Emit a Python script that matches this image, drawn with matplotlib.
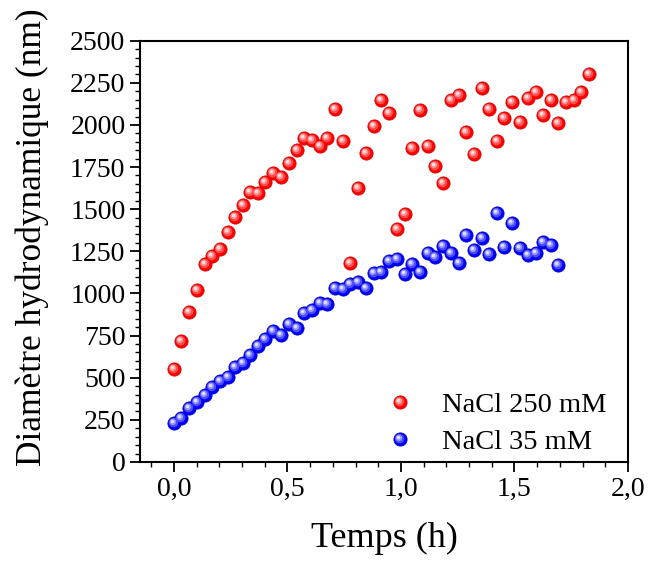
import numpy as np
import matplotlib
matplotlib.use("Agg")
import matplotlib.pyplot as plt
from matplotlib.path import Path
from matplotlib.lines import Line2D
from matplotlib.legend_handler import HandlerTuple
from matplotlib.ticker import MultipleLocator, FuncFormatter

plt.rcParams['font.family'] = ['Liberation Serif', 'DejaVu Serif']

# temps de mesure (h)
temps = [0.0, 0.031, 0.066, 0.101, 0.135, 0.167, 0.201, 0.236, 0.270, 0.304,
         0.336, 0.370, 0.403, 0.436, 0.472, 0.506, 0.541, 0.574, 0.607, 0.642,
         0.676, 0.711, 0.744, 0.776, 0.811, 0.846, 0.880, 0.914, 0.948, 0.981,
         1.016, 1.050, 1.084, 1.117, 1.151, 1.185, 1.219, 1.254, 1.286, 1.320,
         1.355, 1.389, 1.423, 1.456, 1.490, 1.524, 1.559, 1.593, 1.627, 1.660,
         1.694, 1.728, 1.762, 1.795, 1.829]

# NaCl 250 mM
d_250 = [552, 718, 889, 1021, 1172, 1225, 1265, 1364, 1455, 1526,
         1603, 1599, 1659, 1714, 1694, 1772, 1851, 1922, 1908, 1873,
         1924, 2096, 1906, 1178, 1625, 1833, 1995, 2146, 2068, 1384,
         1473, 1865, 2090, 1873, 1754, 1653, 2150, 2175, 1958, 1825,
         2219, 2094, 1902, 2039, 2136, 2019, 2158, 2195, 2061, 2148,
         2011, 2138, 2150, 2197, 2300]

# NaCl 35 mM
d_35 = [234, 263, 322, 358, 398, 447, 483, 503, 566, 586,
        635, 689, 729, 780, 754, 818, 794, 887, 903, 942,
        938, 1031, 1025, 1057, 1067, 1031, 1120, 1128, 1194, 1205,
        1115, 1174, 1126, 1239, 1215, 1279, 1239, 1180, 1348, 1259,
        1328, 1233, 1479, 1275, 1417, 1267, 1227, 1243, 1308, 1287,
        1170]


def reflet(c, r):
    # cercle décalé vers le haut à gauche ; le point isolé garde l'échelle du marqueur
    circ = Path.circle((-c, c), r)
    return Path(np.vstack([[0.5, -0.5], circ.vertices]),
                np.concatenate([[Path.MOVETO], circ.codes]))


# (décalage, rayon, teinte) des reflets
couches = [(0.07, 0.36, 0.30), (0.12, 0.24, 0.60), (0.15, 0.13, 0.88)]

fig = plt.figure(figsize=(6.48, 5.61), dpi=100)
ax = fig.add_axes([0.216, 0.1765, 0.753, 0.751])


def spheres(x, y, rgb, edge):
    rgb = np.array(rgb, dtype=float)
    handles = [Line2D([], [], ls='none', marker='o', ms=9.5, color=rgb, mec=edge, mew=0.6)]
    ax.scatter(x, y, s=90, color=rgb, edgecolors=edge, linewidths=0.6, zorder=3)
    for k, (c, r, t) in enumerate(couches):
        col = rgb + (1 - rgb) * t
        m = reflet(c, r)
        ax.scatter(x, y, s=90, marker=m, color=col, linewidths=0, zorder=4 + k)
        handles.append(Line2D([], [], ls='none', marker=m, ms=9.5, color=col, mew=0))
    return tuple(handles)


h_red = spheres(temps, d_250, (1, 0, 0), '#d80000')
h_blue = spheres(temps[:len(d_35)], d_35, (0, 0, 1), '#0000c8')

ax.set_xlim(-0.15, 2.0)
ax.set_ylim(0, 2500)
ax.xaxis.set_major_locator(MultipleLocator(0.5))
ax.xaxis.set_minor_locator(MultipleLocator(0.1))
ax.yaxis.set_major_locator(MultipleLocator(250))
ax.yaxis.set_minor_locator(MultipleLocator(50))
ax.xaxis.set_major_formatter(FuncFormatter(lambda v, p: f"{v:.1f}".replace('.', ',')))

ax.tick_params(which='major', length=7, width=1.3, labelsize=20, direction='out')
ax.tick_params(which='minor', length=3.5, width=1.0, direction='out')
for sp in ax.spines.values():
    sp.set_linewidth(1.5)

ax.set_xlabel('Temps (h)', fontsize=26, labelpad=15)
ax.set_ylabel('Diamètre hydrodynamique (nm)', fontsize=25.5)
ax.yaxis.set_label_coords(-0.187, 0.533)

ax.legend([h_red, h_blue], ['NaCl 250 mM', 'NaCl 35 mM'],
          handler_map={tuple: HandlerTuple(ndivide=1)},
          loc='lower right', bbox_to_anchor=(1.008, -0.045), frameon=False,
          fontsize=20.5, handletextpad=0.7, labelspacing=0.4, handlelength=1.5)

fig.savefig('out.png', dpi=100)
